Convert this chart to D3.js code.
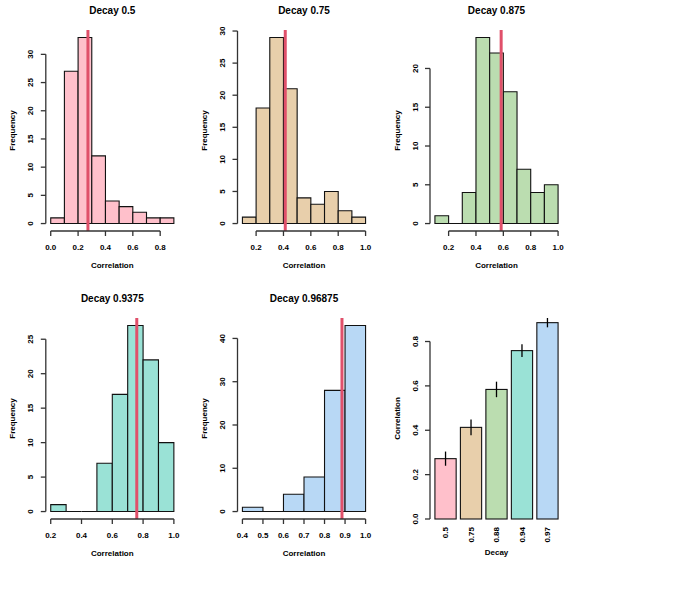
<!DOCTYPE html>
<html lang="en">
<head>
    <meta charset="UTF-8">
    <title>Decay histograms</title>
    <script src="https://cdn.jsdelivr.net/npm/d3@7/dist/d3.min.js"></script>
    <style>
        body { margin: 0; background: #fff; }
        text { font-family: "Liberation Sans", Arial, sans-serif; font-weight: bold; fill: #000; }
    </style>
</head>
<body>
<script type="text/javascript">
    var width = 696;
    var height = 599;

    // histogram data: first break, last break, counts per 0.1 bin
    var decayTitles = ['Decay 0.5', 'Decay 0.75', 'Decay 0.875', 'Decay 0.9375', 'Decay 0.96875'];
    var breakStart = [0.0, 0.1, 0.1, 0.2, 0.4];
    var breakEnd = [0.9, 1.0, 1.0, 1.0, 1.0];
    var counts1 = [1, 27, 33, 12, 4, 3, 2, 1, 1];
    var counts2 = [1, 18, 29, 21, 4, 3, 5, 2, 1];
    var counts3 = [1, 0, 4, 24, 22, 17, 7, 4, 5];
    var counts4 = [1, 0, 0, 7, 17, 27, 22, 10];
    var counts5 = [1, 0, 4, 8, 28, 43];
    var allCounts = [counts1, counts2, counts3, counts4, counts5];
    var xTicks = [
        [0.0, 0.2, 0.4, 0.6, 0.8],
        [0.2, 0.4, 0.6, 0.8, 1.0],
        [0.2, 0.4, 0.6, 0.8, 1.0],
        [0.2, 0.4, 0.6, 0.8, 1.0],
        [0.4, 0.5, 0.6, 0.7, 0.8, 0.9, 1.0]
    ];
    var yTicks = [
        [0, 5, 10, 15, 20, 25, 30],
        [0, 5, 10, 15, 20, 25, 30],
        [0, 5, 10, 15, 20],
        [0, 5, 10, 15, 20, 25],
        [0, 10, 20, 30, 40]
    ];

    // summary bar chart
    var decayLabels = ['0.5', '0.75', '0.88', '0.94', '0.97'];
    var meanCorr = [0.272, 0.413, 0.584, 0.759, 0.885];
    var errCorr = [0.032, 0.035, 0.035, 0.029, 0.021];
    var barTicks = [0.0, 0.2, 0.4, 0.6, 0.8];

    var colors = ['#FFC0CB', '#E8CFAB', '#BBDDB0', '#9AE2D6', '#B8D8F5'];
    var meanColor = '#E0506A';
    var axisColor = '#333';
    var tickSize = '8px';

    var colLeft = [45.8, 237.5, 430];
    var rowTop = [30, 318];
    var plotW = 133;
    var plotH = 201;

    var svg = d3.select('body').append('svg')
            .attr('width', width)
            .attr('height', height);

    function yAxis(g, y, yt, fmtY, x0) {
        var ya = g.append('g').attr('transform', 'translate(' + x0 + ',0)');
        ya.append('line')
                .attr('y1', y(yt[0])).attr('y2', y(yt[yt.length - 1]))
                .attr('stroke', axisColor).attr('stroke-width', 1.3);
        ya.selectAll('line.tk').data(yt).enter().append('line')
                .attr('class', 'tk')
                .attr('y1', function (d) { return y(d); })
                .attr('y2', function (d) { return y(d); })
                .attr('x1', 0).attr('x2', -5)
                .attr('stroke', axisColor).attr('stroke-width', 1.3);
        ya.selectAll('text').data(yt).enter().append('text')
                .attr('transform', function (d) {
                    return 'translate(-12.5,' + y(d) + ') rotate(-90)';
                })
                .attr('text-anchor', 'middle')
                .attr('font-size', tickSize)
                .text(fmtY);
    }

    function xAxis(g, x, xt, fmtX, y0) {
        // R style: line from first to last tick
        var xa = g.append('g').attr('transform', 'translate(0,' + y0 + ')');
        xa.append('line')
                .attr('x1', x(xt[0])).attr('x2', x(xt[xt.length - 1]))
                .attr('stroke', axisColor).attr('stroke-width', 1.3);
        xa.selectAll('line.tk').data(xt).enter().append('line')
                .attr('class', 'tk')
                .attr('x1', function (d) { return x(d); })
                .attr('x2', function (d) { return x(d); })
                .attr('y1', 0).attr('y2', 5)
                .attr('stroke', axisColor).attr('stroke-width', 1.3);
        xa.selectAll('text').data(xt).enter().append('text')
                .attr('x', function (d) { return x(d); })
                .attr('y', 19)
                .attr('text-anchor', 'middle')
                .attr('font-size', tickSize)
                .text(fmtX);
    }

    function histPanel(k, px, py) {
        var counts = allCounts[k];
        var b0 = breakStart[k], b1 = breakEnd[k];
        var bw = (b1 - b0) / counts.length;
        var span = b1 - b0;
        var maxC = d3.max(counts);
        var x = d3.scaleLinear()
                .domain([b0 - 0.04 * span, b1 + 0.04 * span])
                .range([px, px + plotW]);
        var y = d3.scaleLinear()
                .domain([-0.04 * maxC, 1.04 * maxC])
                .range([py + plotH, py]);
        var g = svg.append('g');
        // paths so that empty bins still show as a line on the baseline
        g.selectAll('path.bin')
                .data(counts)
                .enter()
                .append('path')
                .attr('class', 'bin')
                .attr('d', function (d, i) {
                    var xa = x(b0 + i * bw), xb = x(b0 + (i + 1) * bw);
                    return 'M' + xa + ',' + y(0) + 'V' + y(d) + 'H' + xb + 'V' + y(0) + 'Z';
                })
                .attr('fill', colors[k])
                .attr('stroke', '#111')
                .attr('stroke-width', 1.1);
        // mean line
        var m = meanCorr[k];
        g.append('line')
                .attr('x1', x(m)).attr('x2', x(m))
                .attr('y1', py).attr('y2', py + plotH)
                .attr('stroke', meanColor)
                .attr('stroke-width', 3);
        xAxis(g, x, xTicks[k], function (d) { return d3.format('.1f')(d); }, py + plotH);
        yAxis(g, y, yTicks[k], function (d) { return d; }, px);
        g.append('text')
                .attr('x', px + plotW / 2)
                .attr('y', py - 16)
                .attr('text-anchor', 'middle')
                .attr('font-size', '10px')
                .text(decayTitles[k]);
        g.append('text')
                .attr('x', px + plotW / 2)
                .attr('y', py + plotH + 37)
                .attr('text-anchor', 'middle')
                .attr('font-size', '8px')
                .text('Correlation');
        g.append('text')
                .attr('transform', 'translate(' + (px - 30.5) + ',' + (py + plotH / 2) + ') rotate(-90)')
                .attr('text-anchor', 'middle')
                .attr('font-size', '8px')
                .text('Frequency');
    }

    for (var k = 0; k < 5; k++) {
        histPanel(k, colLeft[k % 3], rowTop[Math.floor(k / 3)]);
    }

    // bar chart panel
    var bLeft = colLeft[2], bTop = rowTop[1];
    var bx = d3.scaleLinear()
            .domain([-0.032, 6.232])
            .range([bLeft, bLeft + plotW]);
    var by = d3.scaleLinear()
            .domain([0, 0.906])
            .range([bTop + plotH, bTop]);
    var gb = svg.append('g');
    gb.selectAll('rect')
            .data(meanCorr)
            .enter()
            .append('rect')
            .attr('x', function (d, i) { return bx(0.2 + i * 1.2); })
            .attr('width', bx(1) - bx(0))
            .attr('y', function (d) { return by(d); })
            .attr('height', function (d) { return by(0) - by(d); })
            .attr('fill', function (d, i) { return colors[i]; })
            .attr('stroke', '#111')
            .attr('stroke-width', 1.1);
    gb.selectAll('line.err')
            .data(meanCorr)
            .enter()
            .append('line')
            .attr('class', 'err')
            .attr('x1', function (d, i) { return bx(0.7 + i * 1.2); })
            .attr('x2', function (d, i) { return bx(0.7 + i * 1.2); })
            .attr('y1', function (d, i) { return by(d - errCorr[i]); })
            .attr('y2', function (d, i) { return by(d + errCorr[i]); })
            .attr('stroke', '#000')
            .attr('stroke-width', 1.3);
    yAxis(gb, by, barTicks, function (d) { return d3.format('.1f')(d); }, bLeft);
    gb.selectAll('text.lab')
            .data(decayLabels)
            .enter()
            .append('text')
            .attr('class', 'lab')
            .attr('transform', function (d, i) {
                return 'translate(' + (bx(0.7 + i * 1.2) + 2.8) + ',' + (bTop + plotH + 8) + ') rotate(-90)';
            })
            .attr('text-anchor', 'end')
            .attr('font-size', tickSize)
            .text(function (d) { return d; });
    gb.append('text')
            .attr('x', bLeft + plotW / 2)
            .attr('y', bTop + plotH + 36)
            .attr('text-anchor', 'middle')
            .attr('font-size', '8px')
            .text('Decay');
    gb.append('text')
            .attr('transform', 'translate(' + (bLeft - 30.5) + ',' + (bTop + plotH / 2) + ') rotate(-90)')
            .attr('text-anchor', 'middle')
            .attr('font-size', '8px')
            .text('Correlation');
</script>
</body>
</html>
